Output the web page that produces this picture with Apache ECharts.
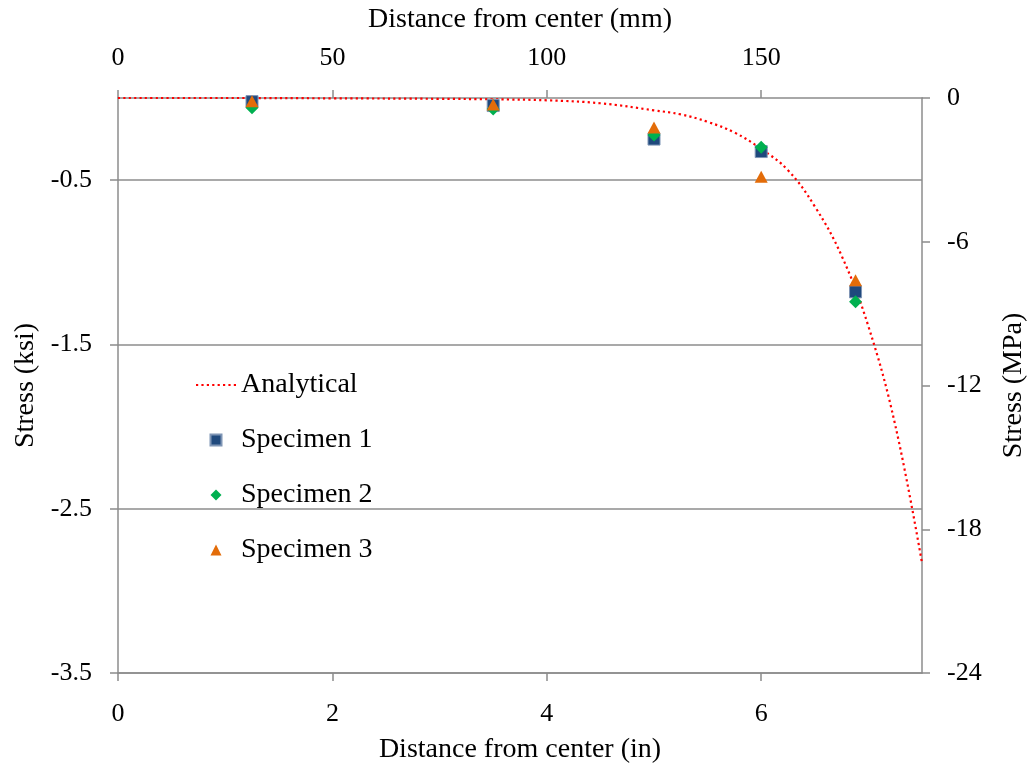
<!DOCTYPE html>
<html>
<head>
<meta charset="utf-8">
<script src="https://cdn.jsdelivr.net/npm/echarts@6/dist/echarts.min.js"></script>
<style>
html,body{margin:0;padding:0;background:#fff;}
#chart{width:1032px;height:774px;}
</style>
</head>
<body>
<div id="chart"></div>
<script>
// Analytical curve (distance in inches, stress in ksi)
const analyticalX = [0, 1, 2, 3, 3.5, 4, 4.5, 5, 5.25, 5.5, 5.75, 6, 6.25, 6.5, 6.75, 7, 7.25, 7.5];
const analyticalY = [0, 0, -0.002, -0.005, -0.008, -0.014, -0.032, -0.075, -0.1, -0.145, -0.21, -0.31, -0.44, -0.66, -0.96, -1.39, -1.99, -2.83];

// Measured specimens
const specimenX = [1.25, 3.5, 5.0, 6.0, 6.88];
const specimen1 = [-0.022, -0.046, -0.25, -0.326, -1.18];
const specimen2 = [-0.06, -0.067, -0.225, -0.30, -1.24];
const specimen3 = [-0.02, -0.04, -0.18, -0.48, -1.11];

// Axis ticks
const inTicks = [0, 2, 4, 6];
const mmTicks = [0, 50, 100, 150];
const ksiTicks = [-3.5, -2.5, -1.5, -0.5];

const FONT = '"Liberation Serif", "Times New Roman", serif';
const axisGray = '#8c8c8c';

function pairs(xs, ys) { return xs.map((x, i) => [x, ys[i]]); }

const chart = echarts.init(document.getElementById('chart'), null, {renderer: 'canvas'});

const labelStyle = {fontFamily: FONT, fontSize: 26, color: '#000'};
const nameStyle = {fontFamily: FONT, fontSize: 28, color: '#000'};

const ICON_RECT = 'path://M0,0L10,0L10,10L0,10Z';
const ICON_DIAMOND = 'path://M5,0L10,5L5,10L0,5Z';
const ICON_TRIANGLE = 'path://M5,0L10,10L0,10Z';

chart.setOption({
  animation: false,
  backgroundColor: '#fff',
  grid: {left: 118, right: 110, top: 98, bottom: 101, containLabel: false, outerBoundsMode: 'none'},
  legend: {
    orient: 'vertical',
    left: 190,
    top: 366,
    itemWidth: 40,
    itemHeight: 11,
    itemGap: 27,
    symbolKeepAspect: true,
    textStyle: {fontFamily: FONT, fontSize: 28, color: '#000'},
    data: [
      {name: 'Analytical', itemStyle: {color: 'rgba(0,0,0,0)', borderWidth: 0, opacity: 0}},
      {name: 'Specimen 1', icon: ICON_RECT},
      {name: 'Specimen 2', icon: ICON_DIAMOND},
      {name: 'Specimen 3', icon: ICON_TRIANGLE}
    ]
  },
  xAxis: [
    {
      type: 'value', position: 'bottom', min: 0, max: 7.5, interval: 2,
      name: 'Distance from center (in)', nameLocation: 'middle', nameGap: 63,
      nameTextStyle: nameStyle,
      axisLine: {show: true, onZero: false, lineStyle: {color: axisGray, width: 1.5}},
      axisTick: {show: true, length: 8, customValues: inTicks, lineStyle: {color: axisGray, width: 1.5}},
      axisLabel: Object.assign({margin: 28, customValues: inTicks}, labelStyle),
      splitLine: {show: false}
    },
    {
      type: 'value', position: 'top', min: 0, max: 187.5, interval: 50,
      name: 'Distance from center (mm)', nameLocation: 'middle', nameGap: 64,
      nameTextStyle: nameStyle,
      axisLine: {show: true, onZero: false, lineStyle: {color: axisGray, width: 1.5}},
      axisTick: {show: true, length: 8, customValues: mmTicks, lineStyle: {color: axisGray, width: 1.5}},
      axisLabel: Object.assign({margin: 27, customValues: mmTicks}, labelStyle),
      splitLine: {show: false}
    }
  ],
  yAxis: [
    {
      type: 'value', position: 'left', min: -3.5, max: 0, interval: 1,
      name: 'Stress (ksi)', nameLocation: 'middle', nameGap: 78, nameRotate: 90,
      nameTextStyle: nameStyle,
      axisLine: {show: true, onZero: false, lineStyle: {color: axisGray, width: 1.5}},
      axisTick: {show: true, length: 8, customValues: ksiTicks, lineStyle: {color: axisGray, width: 1.5}},
      axisLabel: Object.assign({margin: 26, customValues: ksiTicks}, labelStyle),
      splitLine: {show: true, lineStyle: {color: axisGray, width: 1.5}}
    },
    {
      type: 'value', position: 'right', min: -24, max: 0, interval: 6,
      name: 'Stress (MPa)', nameLocation: 'middle', nameGap: 78, nameRotate: 90,
      nameTextStyle: nameStyle,
      axisLine: {show: true, onZero: false, lineStyle: {color: axisGray, width: 1.5}},
      axisTick: {show: true, length: 8, lineStyle: {color: axisGray, width: 1.5}},
      axisLabel: Object.assign({margin: 25}, labelStyle),
      splitLine: {show: false}
    }
  ],
  series: [
    {
      name: 'Analytical', type: 'line', xAxisIndex: 0, yAxisIndex: 0,
      data: pairs(analyticalX, analyticalY),
      smooth: 0.4, showSymbol: false, symbol: 'none',
      lineStyle: {color: '#ff0000', width: 2.2, type: [2.2, 3.2]},
      itemStyle: {color: '#ff0000'},
      z: 3
    },
    {
      name: 'Specimen 1', type: 'scatter', xAxisIndex: 0, yAxisIndex: 0,
      data: pairs(specimenX, specimen1),
      symbol: 'rect', symbolSize: 12,
      itemStyle: {color: '#1f497d', borderColor: '#7f95b5', borderWidth: 1, opacity: 1},
      z: 4
    },
    {
      name: 'Specimen 2', type: 'scatter', xAxisIndex: 0, yAxisIndex: 0,
      data: pairs(specimenX, specimen2),
      symbol: 'diamond', symbolSize: [13, 13],
      itemStyle: {color: '#00b050', opacity: 1},
      z: 5
    },
    {
      name: 'Specimen 3', type: 'scatter', xAxisIndex: 0, yAxisIndex: 0,
      data: pairs(specimenX, specimen3),
      symbol: 'triangle', symbolSize: [13, 12],
      itemStyle: {color: '#e36c09', opacity: 1},
      z: 6
    }
  ]
});
</script>
</body>
</html>
